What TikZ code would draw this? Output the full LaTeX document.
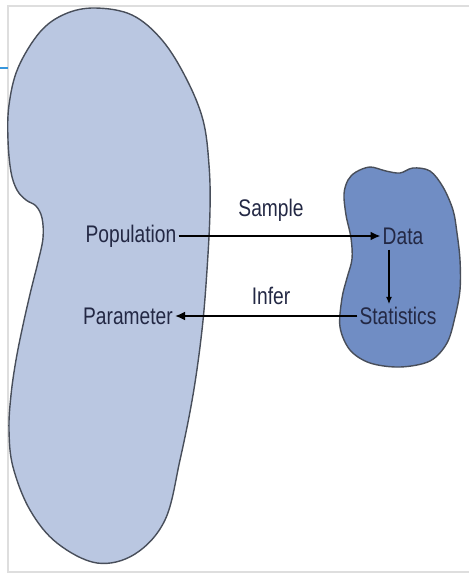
\documentclass[tikz,border=0pt]{standalone}
\usepackage{fontspec}
\setmainfont{Liberation Sans}[FakeStretch=0.8]
\usepackage{tikz}
\usetikzlibrary{arrows.meta, positioning, calc}

\definecolor{popfill}{RGB}{186,199,225}
\definecolor{samplefill}{RGB}{112,141,196}
\definecolor{blobline}{RGB}{72,78,90}
\definecolor{textnavy}{RGB}{35,40,68}
\definecolor{framegray}{RGB}{222,222,222}
\definecolor{tickblue}{RGB}{55,150,220}

\begin{document}
\begin{tikzpicture}[
  x=1pt, y=-1pt,
  every node/.style={font=\fontsize{24}{27}\selectfont, text=textnavy, inner sep=2pt},
  blob/.style={draw=blobline, line width=1.4pt},
  flow/.style={draw, -{Latex[length=10pt, width=9pt]}, line width=1.9pt},
  step arrow/.style={draw, -{Latex[length=7pt, width=6pt]}, line width=1.2pt}
]
\useasboundingbox (0,0) rectangle (469,576);

% frame
\draw[framegray, line width=1.5pt] (469,6) -- (8,6) -- (8,572) -- (469,572);
\draw[tickblue, line width=1.5pt] (0,68) -- (8,68);

% population
\draw[blob, fill=popfill] plot[smooth cycle, tension=0.6] coordinates {
  (95,8) (132,15) (162,40) (186,78) (203,120) (209,165) (210,210)
  (207,270) (202,330) (193,395) (180,460) (165,520) (135,554) (97,563)
  (57,543) (30,510) (13,467) (9,430) (11,395) (16,360) (23,325)
  (31,290) (38,262) (43,238) (42,218) (36,206) (26,200) (17,190) (11,172)
  (8,140) (9,105) (18,68) (40,32) (65,14)};

% sample
\draw[blob, fill=samplefill] plot[smooth cycle, tension=0.55] coordinates {
  (348,180) (356,172) (370,167) (386,171) (400,173) (413,168) (430,171)
  (443,187) (453,210) (457,233) (460,260) (460,290) (455,317) (447,343)
  (430,361) (400,367) (370,363) (350,350) (340,327) (342,298) (347,278)
  (352,259) (351,238) (346,215) (344,194)};

% labels
\node (pop) at (131,236) {Population};
\node (param) at (128,316) {Parameter};
\node (data) at (403,236) {Data};
\node (stats) at (398,316) {Statistics};
\node (sample) at (271,210) {Sample};
\node (infer) at (271,296) {Infer};

% arrows
\coordinate (down) at (389,0);
\draw[flow] (pop.east) -- (data.west);
\draw[flow] (stats.west) -- (param.east);
\draw[step arrow] ($(data.south -| down)+(0,3)$) -- ($(stats.north -| down)+(0,-1)$);
\end{tikzpicture}
\end{document}
